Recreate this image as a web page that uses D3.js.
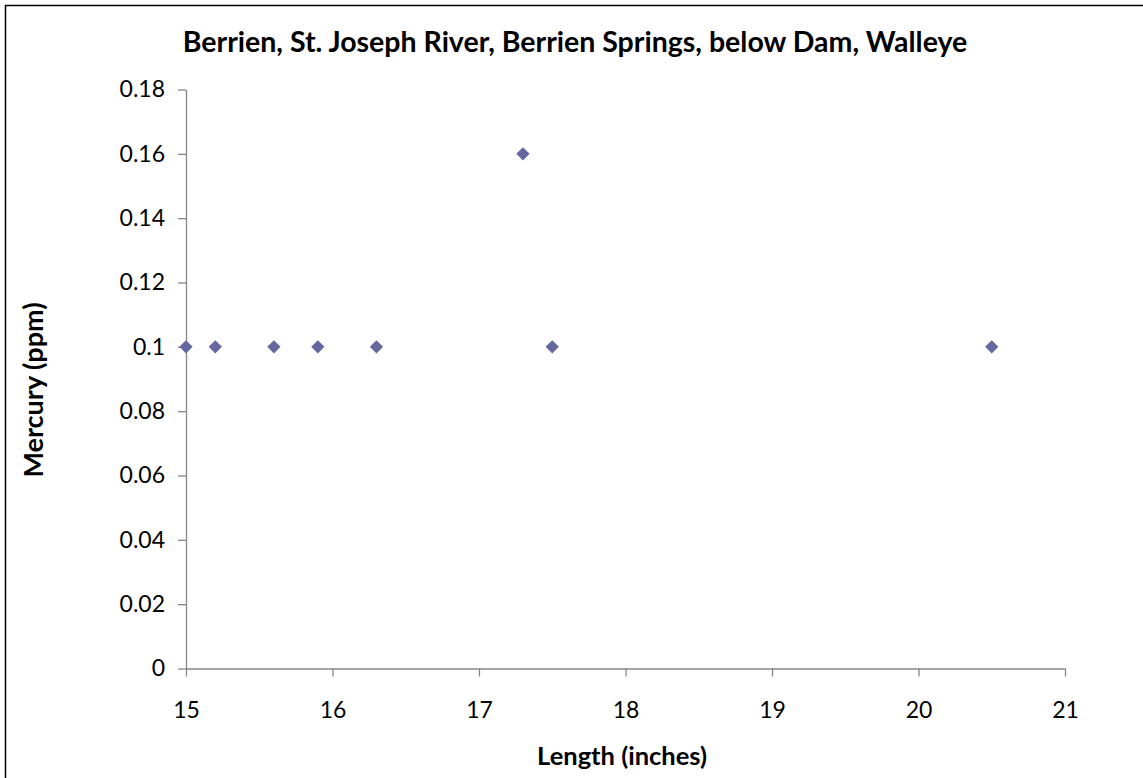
<!DOCTYPE html>
<html>
<head>
<meta charset="utf-8">
<script src="https://cdn.jsdelivr.net/npm/d3@7"></script>
<style>
  html, body { margin: 0; padding: 0; background: #fff; }
  svg { display: block; }
  text { font-family: Lato, "Open Sans", sans-serif; fill: #000; }
</style>
</head>
<body>
<svg id="chart" width="1143" height="778"></svg>
<script>
const chartTitle = "Berrien, St. Joseph River, Berrien Springs, below Dam, Walleye";
const xTitle = "Length (inches)";
const yTitle = "Mercury (ppm)";
const lengths = [15.0, 15.2, 15.6, 15.9, 16.3, 17.3, 17.5, 20.5];
const mercury = [0.10, 0.10, 0.10, 0.10, 0.10, 0.16, 0.10, 0.10];
const xTicks = [15, 16, 17, 18, 19, 20, 21];
const yTicks = [0, 0.02, 0.04, 0.06, 0.08, 0.1, 0.12, 0.14, 0.16, 0.18];

const svg = d3.select("#chart");
const W = 1143, H = 778;

svg.append("rect").attr("x", 5.5).attr("y", 5.5).attr("width", W + 20).attr("height", H + 20)
  .attr("fill", "#fff").attr("stroke", "#000").attr("stroke-width", 1.5);

const x = d3.scaleLinear().domain([15, 21]).range([186, 1065]);
const y = d3.scaleLinear().domain([0, 0.18]).range([668.5, 89.5]);

const axisColor = "#868686";

const xAxis = svg.append("g").attr("transform", `translate(0,${y(0)})`)
  .call(d3.axisBottom(x).tickValues(xTicks).tickFormat(d3.format("d")).tickSize(8).tickPadding(25).tickSizeOuter(0));
const yAxis = svg.append("g").attr("transform", `translate(${x(15)},0)`)
  .call(d3.axisLeft(y).tickValues(yTicks).tickFormat(d => d === 0 ? "0" : String(+d.toFixed(2))).tickSize(8).tickPadding(13).tickSizeOuter(0));

[xAxis, yAxis].forEach(g => {
  g.select(".domain").attr("stroke", axisColor).attr("stroke-width", 1.3);
  g.selectAll(".tick line").attr("stroke", axisColor).attr("stroke-width", 1.3);
  g.selectAll(".tick text").attr("font-size", 23).attr("font-family", "Lato, sans-serif").attr("fill", "#000");
});

svg.append("text").attr("x", 575).attr("y", 52).attr("text-anchor", "middle")
  .attr("font-size", 28.5).attr("font-weight", "bold").text(chartTitle);

svg.append("text").attr("x", 622).attr("y", 765).attr("text-anchor", "middle")
  .attr("font-size", 25.5).attr("font-weight", "bold").text(xTitle);

svg.append("text").attr("transform", `translate(43,390) rotate(-90)`).attr("text-anchor", "middle")
  .attr("font-size", 27).attr("font-weight", "bold").text(yTitle);

const sym = d3.symbol().type(d3.symbolSquare).size(88);
svg.append("g").selectAll("path").data(lengths.map((v, i) => [v, mercury[i]])).join("path")
  .attr("d", sym)
  .attr("transform", d => `translate(${x(d[0])},${y(d[1])}) rotate(45)`)
  .attr("fill", "#65679F");
</script>
</body>
</html>
